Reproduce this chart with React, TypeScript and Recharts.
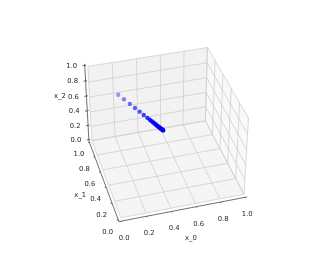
/**
 * 3D scatter of a converging path, drawn on hidden pixel-scale axes
 */
import React from 'react';
import { ScatterChart, Scatter, XAxis, YAxis } from 'recharts';

const WIDTH = 314;
const HEIGHT = 262;

// path values
const x0Values = [0.24, 0.272, 0.304, 0.332, 0.357, 0.379, 0.398, 0.411, 0.421, 0.429, 0.436, 0.442, 0.448, 0.453, 0.458, 0.462, 0.465, 0.469, 0.471, 0.474, 0.476, 0.479, 0.481];
const x1Values = [1.0, 0.934, 0.868, 0.81, 0.758, 0.712, 0.672, 0.645, 0.625, 0.608, 0.593, 0.58, 0.568, 0.558, 0.548, 0.54, 0.532, 0.525, 0.52, 0.515, 0.51, 0.505, 0.5];
const x2Values = [0.568, 0.559, 0.55, 0.542, 0.535, 0.529, 0.523, 0.52, 0.517, 0.515, 0.513, 0.511, 0.509, 0.508, 0.506, 0.505, 0.504, 0.503, 0.503, 0.502, 0.501, 0.501, 0.5];
const tickValues = [0, 0.2, 0.4, 0.6, 0.8, 1];

// camera
const ELEV = (37.5 * Math.PI) / 180;
const AZIM = (-106 * Math.PI) / 180;
const DIST = 10;
const ASPECT = [1.1905, 1.1905, 0.8929];
const ZOOM = 1060;
const CENTER = [165.5, 130];
const PAD = 1 / 48;

const w = [Math.cos(ELEV) * Math.cos(AZIM), Math.cos(ELEV) * Math.sin(AZIM), Math.sin(ELEV)];
const u = [-Math.sin(AZIM), Math.cos(AZIM), 0];
const v = [w[1] * u[2] - w[2] * u[1], w[2] * u[0] - w[0] * u[2], w[0] * u[1] - w[1] * u[0]];
const dot = (a: number[], b: number[]) => a[0] * b[0] + a[1] * b[1] + a[2] * b[2];

const toView = (x: number, y: number, z: number) =>
  [(x - 0.5) * ASPECT[0], (y - 0.5) * ASPECT[1], (z - 0.5) * ASPECT[2]];

const project = (x: number, y: number, z: number) => {
  const p = toView(x, y, z);
  const depth = DIST - dot(p, w);
  return {
    x: CENTER[0] + (ZOOM * dot(p, u)) / depth,
    y: CENTER[1] - (ZOOM * dot(p, v)) / depth,
  };
};

type P3 = [number, number, number];

const pane = (corners: P3[], fill: string) => {
  const pts = corners.map((c) => project(c[0], c[1], c[2]));
  return { x: pts[0].x, y: pts[0].y, pts, fill };
};

const panes = [
  pane([[0, 1, 0], [1, 1, 0], [1, 1, 1], [0, 1, 1]], '#f2f2f2'),
  pane([[1, 0, 0], [1, 1, 0], [1, 1, 1], [1, 0, 1]], '#f9f9f9'),
  pane([[0, 0, 0], [1, 0, 0], [1, 1, 0], [0, 1, 0]], '#f5f5f5'),
];

const seg = (a: P3, b: P3, stroke: string, strokeWidth: number) => {
  const p = project(a[0], a[1], a[2]);
  const q = project(b[0], b[1], b[2]);
  return { x: p.x, y: p.y, dx: q.x - p.x, dy: q.y - p.y, stroke, strokeWidth };
};

const GRID = '#cfcfcf';
const AXIS = '#303030';

const gridLines = tickValues.flatMap((t) => [
  seg([t, 0, 0], [t, 1, 0], GRID, 0.8),
  seg([0, t, 0], [1, t, 0], GRID, 0.8),
  seg([t, 1, 0], [t, 1, 1], GRID, 0.8),
  seg([0, 1, t], [1, 1, t], GRID, 0.8),
  seg([1, t, 0], [1, t, 1], GRID, 0.8),
  seg([1, 0, t], [1, 1, t], GRID, 0.8),
]);

const LOW = -PAD;
const HIGH = 1 + PAD;

const axisLines = [
  seg([LOW, LOW, LOW], [HIGH, LOW, LOW], AXIS, 0.7),
  seg([LOW, LOW, LOW], [LOW, HIGH, LOW], AXIS, 0.7),
  seg([LOW, HIGH, LOW], [LOW, HIGH, HIGH], AXIS, 0.7),
  ...tickValues.flatMap((t) => [
    seg([t, LOW, LOW], [t, LOW - 0.012, LOW], AXIS, 0.7),
    seg([LOW - 0.012, t, LOW], [LOW, t, LOW], AXIS, 0.7),
    seg([LOW - 0.018, HIGH, t], [LOW + 0.012, HIGH, t], AXIS, 0.7),
  ]),
];

const label = (anchor: { x: number; y: number }, ox: number, oy: number, text: string) => ({
  x: anchor.x + ox,
  y: anchor.y + oy,
  text,
});

const labels = [
  ...tickValues.flatMap((t) => [
    label(project(t, LOW, LOW), 2.5, 17, t.toFixed(1)),
    label(project(LOW, t, LOW), -10.5, 12, t.toFixed(1)),
    label(project(LOW, HIGH, t), -13, 0.5, t.toFixed(1)),
  ]),
  label(project(0.5, LOW, LOW), 7, 29, 'x_0'),
  label(project(LOW, 0.5, LOW), -23, 16, 'x_1'),
  label(project(LOW, HIGH, 0.5), -27, -7, 'x_2'),
];

const depths = x0Values.map((x, i) => -dot(toView(x, x1Values[i], x2Values[i]), w));
const nearest = Math.min(...depths);
const farthest = Math.max(...depths);

const pathPoints = x0Values.map((x, i) => ({
  ...project(x, x1Values[i], x2Values[i]),
  opacity: 1 - (0.62 * (depths[i] - nearest)) / (farthest - nearest),
}));

const PaneShape = (props: any) => {
  const { cx, cy, payload } = props;
  const d = payload.pts
    .map((p: { x: number; y: number }, i: number) => `${i ? 'L' : 'M'}${cx + p.x - payload.x},${cy + p.y - payload.y}`)
    .join(' ');
  return <path d={`${d} Z`} fill={payload.fill} stroke="none" />;
};

const SegmentShape = (props: any) => {
  const { cx, cy, payload } = props;
  return (
    <line
      x1={cx}
      y1={cy}
      x2={cx + payload.dx}
      y2={cy + payload.dy}
      stroke={payload.stroke}
      strokeWidth={payload.strokeWidth}
    />
  );
};

const LabelShape = (props: any) => {
  const { cx, cy, payload } = props;
  return (
    <text
      x={cx}
      y={cy}
      textAnchor="middle"
      dominantBaseline="central"
      fontFamily="DejaVu Sans"
      fontSize={6.8}
      fill="#262626"
    >
      {payload.text}
    </text>
  );
};

const PointShape = (props: any) => {
  const { cx, cy, payload } = props;
  return <circle cx={cx} cy={cy} r={2.2} fill="#0000ff" fillOpacity={payload.opacity} />;
};

const App: React.FC = () => (
  <div style={{ position: 'absolute', left: 0, top: 0, width: WIDTH, height: HEIGHT, background: '#fff', filter: 'blur(0.3px)' }}>
    <ScatterChart width={WIDTH} height={HEIGHT} margin={{ top: 0, right: 0, bottom: 0, left: 0 }}>
      <XAxis type="number" dataKey="x" domain={[0, WIDTH]} hide />
      <YAxis type="number" dataKey="y" domain={[0, HEIGHT]} reversed hide />
      <Scatter data={panes} shape={PaneShape} isAnimationActive={false} />
      <Scatter data={gridLines} shape={SegmentShape} isAnimationActive={false} />
      <Scatter data={axisLines} shape={SegmentShape} isAnimationActive={false} />
      <Scatter data={labels} shape={LabelShape} isAnimationActive={false} />
      <Scatter data={pathPoints} shape={PointShape} isAnimationActive={false} />
    </ScatterChart>
  </div>
);

export default App;
